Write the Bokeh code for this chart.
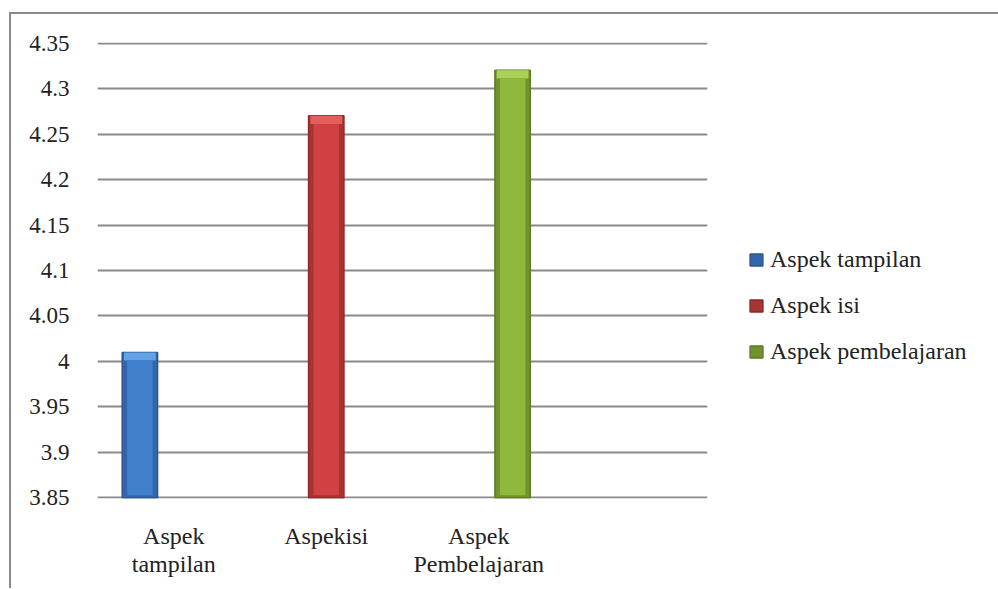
from bokeh.plotting import figure
from bokeh.models import (FactorRange, Range1d, FixedTicker, Legend, LegendItem,
                          ColumnDataSource, CustomJSTickFormatter)
from bokeh.transform import dodge
from bokeh.embed import file_html
from bokeh.resources import INLINE

# ---- data ----
categories = ["Aspek\ntampilan", "Aspekisi", "Aspek\nPembelajaran", " "]
series_names = ["Aspek tampilan", "Aspek isi", "Aspek pembelajaran"]
series_values = [4.01, 4.27, 4.32]
tick_values = [3.85, 3.9, 3.95, 4.0, 4.05, 4.1, 4.15, 4.2, 4.25, 4.3, 4.35]
tick_labels = ["3.85", "3.9", "3.95", "4", "4.05", "4.1", "4.15", "4.2", "4.25", "4.3", "4.35"]

# ---- style ----
FONT = "Liberation Serif"
main_cols = ["#4080cc", "#d04242", "#8fb83c"]
side_cols = ["#3266a8", "#a83333", "#71922e"]
edge_cols = ["#2b5894", "#8e2a2a", "#5f7b26"]
light_cols = ["#62a2e6", "#e45e5e", "#abd255"]
offsets = [-0.222, 0.0, 0.222]
bar_w = 0.232

p = figure(frame_width=610, frame_height=456,
           x_range=FactorRange(factors=categories, range_padding=0),
           y_range=Range1d(3.8494, 4.3506), output_backend="svg", toolbar_location=None,
           min_border_left=86, min_border_right=290, min_border_top=28, min_border_bottom=90)
p.styles = {"margin-left": "9px", "margin-top": "12px",
            "border-left": "2px solid #8a8a8a", "border-top": "2px solid #8a8a8a"}
p.outline_line_color = None
p.background_fill_color = "white"
p.border_fill_color = "white"

p.xgrid.grid_line_color = None
p.ygrid.grid_line_color = "#8a8a8a"
p.ygrid.grid_line_width = 2
p.yaxis.ticker = FixedTicker(ticks=tick_values)
p.yaxis.formatter = CustomJSTickFormatter(
    args=dict(vals=tick_values, labs=tick_labels),
    code="""
    for (let i = 0; i < vals.length; i++) {
        if (Math.abs(vals[i] - tick) < 1e-9) return labs[i];
    }
    return String(tick);
    """)

for ax in (p.xaxis[0], p.yaxis[0]):
    ax.axis_line_color = None
    ax.major_tick_line_color = None
    ax.minor_tick_line_color = None
    ax.major_label_text_font = FONT
    ax.major_label_text_color = "#222222"
p.yaxis[0].major_label_text_font_size = "23px"
p.yaxis[0].major_label_standoff = 22
p.xaxis[0].major_label_text_font_size = "24px"
p.xaxis[0].major_label_standoff = 18
p.xaxis[0].major_label_text_line_height = 1.1

items = []
for i, name in enumerate(series_names):
    src = ColumnDataSource(dict(cat=[categories[i]], val=[series_values[i]],
                                top_b=[series_values[i] - 0.009]))
    x = dodge("cat", offsets[i], range=p.x_range)
    r = p.vbar(x=x, top="val", bottom=3.85, width=bar_w, source=src,
               fill_color=side_cols[i], line_color=edge_cols[i], line_width=1.5)
    p.vbar(x=x, top="val", bottom="top_b", width=bar_w * 0.9, source=src,
           fill_color=light_cols[i], line_color=None)
    p.vbar(x=x, top="top_b", bottom=3.853, width=bar_w * 0.72, source=src,
           fill_color=main_cols[i], line_color=None)
    items.append(LegendItem(label=name, renderers=[r]))

legend = Legend(items=items, location=(41, 133), orientation="vertical",
                glyph_width=16, glyph_height=15, label_height=24, spacing=19,
                label_standoff=6, padding=0, margin=0, border_line_color=None,
                background_fill_alpha=0, label_text_font=FONT,
                label_text_font_size="24px", label_text_color="#222222")
p.add_layout(legend, "right")

open("out.html", "w").write(file_html(p, INLINE))
